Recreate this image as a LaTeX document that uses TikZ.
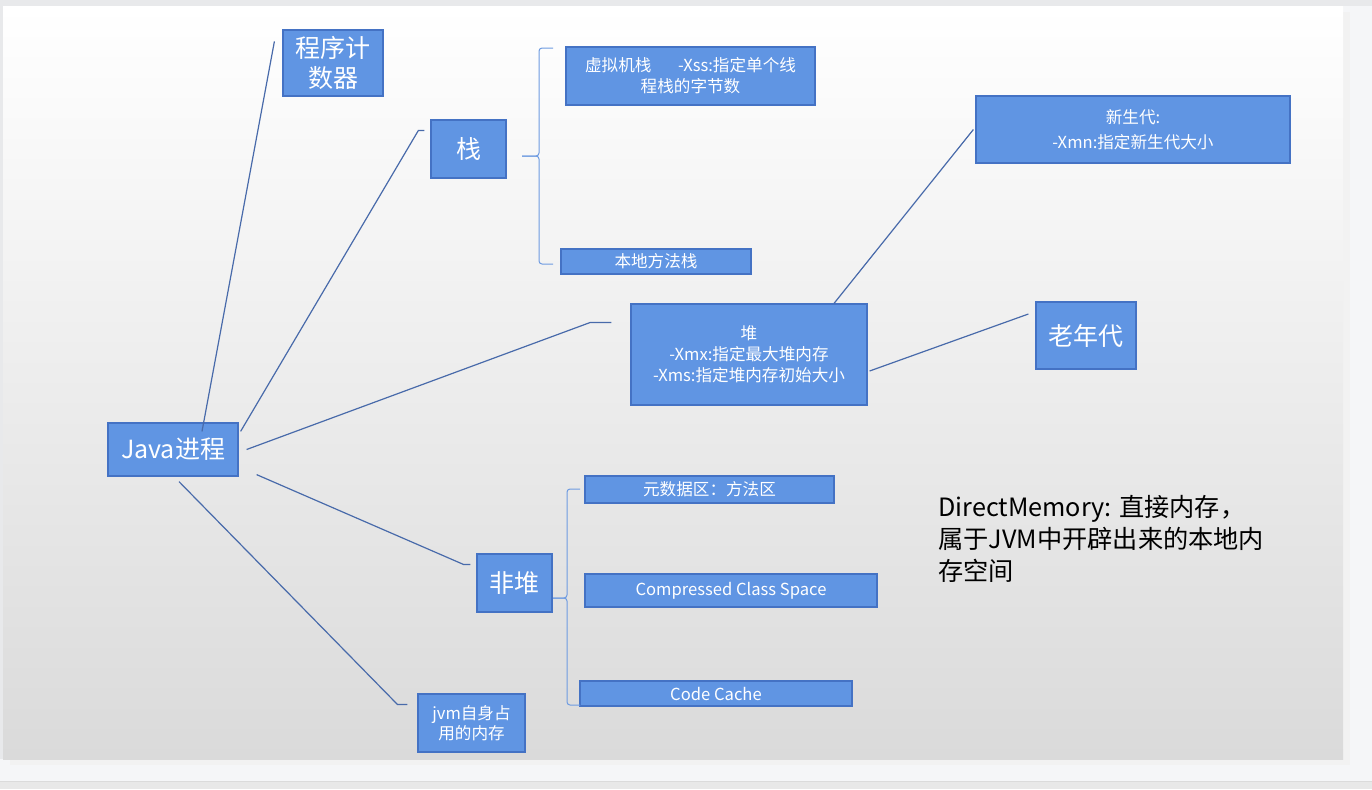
\documentclass[tikz,border=0pt]{standalone}
\usepackage{fontspec}
\setmainfont{Noto Sans CJK SC}
\usetikzlibrary{positioning}

\definecolor{boxfill}{RGB}{96,149,227}
\definecolor{boxline}{RGB}{68,114,196}
\definecolor{linkline}{RGB}{72,106,170}
\definecolor{bracecol}{RGB}{110,155,225}
\definecolor{pagebg}{RGB}{245,246,248}
\definecolor{topbg}{RGB}{232,233,235}
\definecolor{slidebot}{RGB}{218,218,218}
\definecolor{slidemid}{RGB}{243,243,243}

\tikzset{
  box/.style={draw=boxline, fill=boxfill, line width=0.6pt, text=white, inner sep=0pt, align=center, font=\fontsize{8.3}{10.5}\selectfont},
  bigbox/.style={box, font=\fontsize{12.5}{15}\selectfont},
  link/.style={draw=linkline, line width=0.6pt},
  brace/.style={draw=bracecol, line width=0.5pt, rounded corners=1.5pt},
}

\begin{document}
\begin{tikzpicture}[x=0.5pt,y=0.5pt,yscale=-1,xscale=1]

\useasboundingbox (0,0) rectangle (1372,789);

% page and slide
\fill[pagebg] (0,0) rectangle (1372,789);
\fill[topbg] (0,0) rectangle (1372,6);
\fill[topbg] (0,0) rectangle (3,759);
\fill[black!5] (1343,12) rectangle (1350,765);
\fill[black!5] (10,759) rectangle (1350,765);
\shade[top color=white, middle color=slidemid, bottom color=slidebot] (3,6) rectangle (1343,759);
\fill[black!9] (0,781) rectangle (1372,789);
\draw[black!14, line width=0.5pt] (0,781) -- (1372,781);

% Text Node
\node [bigbox, minimum width=65pt, minimum height=26.5pt] (java) at (173,449.5) {Java进程};
% Text Node
\node [bigbox, minimum width=50pt, minimum height=33pt] (pc) at (333,63) {程序计\\数器};
% Text Node
\node [bigbox, minimum width=37.5pt, minimum height=29pt] (stack) at (468.5,149) {栈};
% Text Node
\node [box, minimum width=124.5pt, minimum height=29pt] (vmstack) at (690.5,76) {虚拟机栈\hspace{1.6em}-Xss:指定单个线\\程栈的字节数};
% Text Node
\node [box, minimum width=95pt, minimum height=12.5pt] (native) at (656,261.5) {本地方法栈};
% Text Node
\node [box, minimum width=118pt, minimum height=50.5pt] (heap) at (749,354.5) {堆\\-Xmx:指定最大堆内存\\-Xms:指定堆内存初始大小};
% Text Node
\node [box, minimum width=157pt, minimum height=33.5pt, font=\fontsize{8.3}{12.5}\selectfont] (young) at (1133,129.5) {新生代:\\-Xmn:指定新生代大小};
% Text Node
\node [bigbox, minimum width=50pt, minimum height=33.5pt] (old) at (1086,335.5) {老年代};
% Text Node
\node [bigbox, minimum width=37.5pt, minimum height=29pt] (nonheap) at (514.5,583) {非堆};
% Text Node
\node [box, minimum width=124.5pt, minimum height=13.5pt] (meta) at (709.5,489.5) {元数据区：方法区};
% Text Node
\node [box, minimum width=146pt, minimum height=16.5pt] (ccs) at (731,590.5) {Compressed Class Space};
% Text Node
\node [box, minimum width=136pt, minimum height=12.5pt] (codecache) at (716,693.5) {Code Cache};
% Text Node
\node [box, minimum width=53.5pt, minimum height=29pt, font=\fontsize{8.3}{10}\selectfont] (jvmself) at (471.5,723) {jvm自身占\\用的内存};
% Text Node
\node [anchor=north west, inner sep=0pt, align=left, font=\fontsize{12.6}{16}\selectfont] (direct) at (938,495) {DirectMemory: 直接内存，\\属于JVM中开辟出来的本地内\\存空间};

%Straight Lines
\draw[link] ([shift={(29,9)}]java.north) -- ([shift={(-8,12)}]pc.north west);
%Straight Lines
\draw[link] ([shift={(2,9)}]java.north east) -- ([shift={(-12,11)}]stack.north west) -- ([shift={(-6,11)}]stack.north west);
%Straight Lines
\draw[link] ([shift={(8,0)}]java.east) -- ([shift={(-40,19)}]heap.north west) -- ([shift={(-19,19)}]heap.north west);
%Straight Lines
\draw[link] ([shift={(18,-2)}]java.south east) -- ([shift={(-13,11)}]nonheap.north west) -- ([shift={(-6,11)}]nonheap.north west);
%Straight Lines
\draw[link] ([shift={(6,5)}]java.south) -- ([shift={(-20,11)}]jvmself.north west) -- ([shift={(-10,11)}]jvmself.north west);
%Straight Lines
\draw[link] ([shift={(85,0)}]heap.north) -- ([shift={(-2,0)}]young.west);
%Straight Lines
\draw[link] ([shift={(2,16.5)}]heap.east) -- ([shift={(-7,-21.5)}]old.west);

% braces
\draw[brace] (553,48) -| (539,156) -- (522,156);
\draw[brace] (522,156) -- (539,156) |- (553,264);
\draw[brace] (580,489) -| (567,598) -- (553,598);
\draw[brace] (553,598) -- (567,598) |- (580,705);

\end{tikzpicture}
\end{document}
